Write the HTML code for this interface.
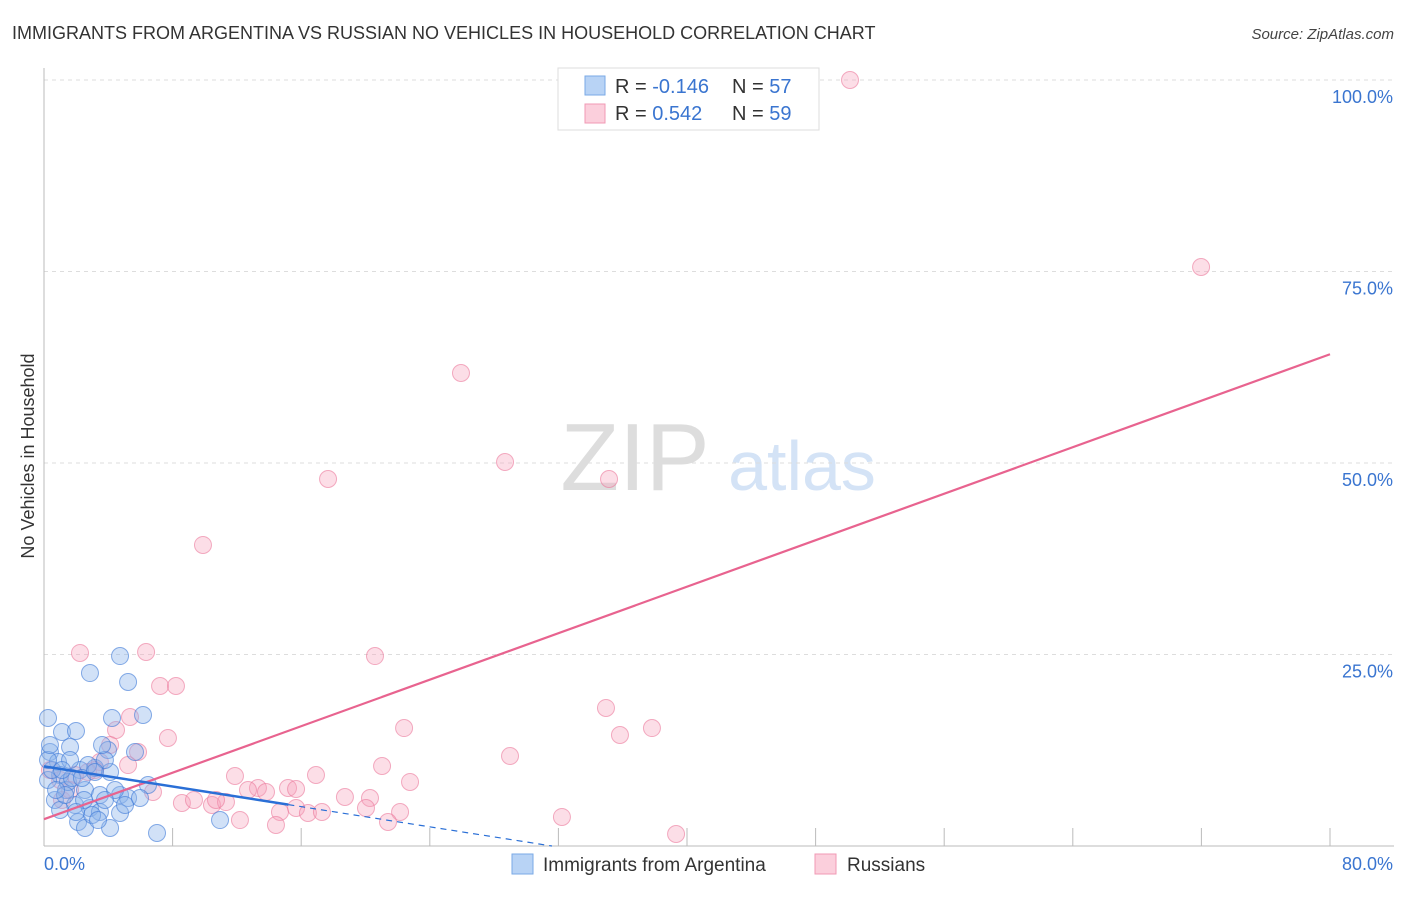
<!DOCTYPE html>
<html><head><meta charset="utf-8"><style>
body{margin:0;background:#fff;font-family:"Liberation Sans",sans-serif}
svg text{font-family:"Liberation Sans",sans-serif}
</style></head><body>
<svg id="chart" width="1406" height="892" viewBox="0 0 1406 892" xmlns="http://www.w3.org/2000/svg">
<text x="12" y="39" font-size="18" fill="#333">IMMIGRANTS FROM ARGENTINA VS RUSSIAN NO VEHICLES IN HOUSEHOLD CORRELATION CHART</text>
<text x="1394" y="39" font-size="15" fill="#444" text-anchor="end" font-style="italic">Source: ZipAtlas.com</text>
<g>
<text x="635" y="490" font-size="96" fill="#ddd" text-anchor="middle" font-family="Liberation Serif, serif">ZIP</text>
<text x="802" y="490" font-size="70" fill="#d4e3f6" text-anchor="middle">atlas</text>
</g>
<g id="grid"></g>
<g id="axes"></g>
<g id="pts"></g>
<g id="trend"></g>
<text transform="translate(34,456) rotate(-90)" font-size="18" fill="#333" text-anchor="middle">No Vehicles in Household</text>
<g>
<rect x="558" y="68" width="261" height="62" fill="#fff" stroke="#ddd"/>
<rect x="585" y="76" width="20" height="19" fill="#b8d3f5" stroke="#7aaae6"/>
<rect x="585" y="104" width="20" height="19" fill="#fbcfdc" stroke="#f09ab4"/>
<text x="615" y="93" font-size="20" fill="#333">R = <tspan fill="#3a75d0">-0.146</tspan></text>
<text x="732" y="93" font-size="20" fill="#333">N = <tspan fill="#3a75d0">57</tspan></text>
<text x="615" y="120" font-size="20" fill="#333">R = <tspan fill="#3a75d0"> 0.542</tspan></text>
<text x="732" y="120" font-size="20" fill="#333">N = <tspan fill="#3a75d0">59</tspan></text>
</g>
<g>
<rect x="512" y="854" width="21" height="20" fill="#b8d3f5" stroke="#7aaae6"/>
<text x="543" y="871" font-size="19" fill="#333">Immigrants from Argentina</text>
<rect x="815" y="854" width="21" height="20" fill="#fbcfdc" stroke="#f09ab4"/>
<text x="847" y="871" font-size="19" fill="#333">Russians</text>
</g>
</svg>
<script>
const blueXpx=[48,62,76,90,120,128,112,143,70,50,58,108,135,95,110,80,60,48,52,66,85,100,120,128,148,55,75,90,60,100,120,78,85,110,157,220,68,105,102,88,48,72,82,95,115,125,92,65,56,70,84,105,140,62,50,76,98];
const blueYpx=[718,732,731,673,656,682,718,715,747,752,762,750,752,768,772,770,775,780,770,790,790,795,795,798,785,800,805,808,810,812,813,822,828,828,833,820,782,760,745,765,760,778,778,772,790,805,815,795,790,760,800,800,798,770,745,812,820];
const pinkXpx=[850,1201,461,505,328,609,203,80,146,375,160,176,606,130,404,652,620,168,116,138,510,110,100,382,235,316,410,288,296,258,266,248,153,182,194,212,226,345,370,216,296,308,322,280,366,400,240,388,276,562,676,50,60,75,88,95,62,128,70];
const pinkYpx=[80,267,373,462,479,479,545,653,652,656,686,686,708,717,728,728,735,738,730,752,756,745,762,766,776,775,782,788,789,788,792,790,792,803,800,805,802,797,798,800,808,813,812,812,808,812,820,822,825,817,834,770,780,775,772,770,800,765,790];
// data values (percent) derived from reading the picture
const blueX=blueXpx.map(p=>+((p-44)/16.075).toFixed(2));
const blueY=blueYpx.map(p=>+((846-p)/7.66).toFixed(2));
const pinkX=pinkXpx.map(p=>+((p-44)/16.075).toFixed(2));
const pinkY=pinkYpx.map(p=>+((846-p)/7.66).toFixed(2));
const yTicks=[25,50,75,100];
const xTickVals=[0,8,16,24,32,40,48,56,64,72,80];
const pinkTrend=[[0,3.5],[80,64.2]];
const blueTrend=[[0,10.4],[15.2,5.4]];
const blueDash=[[15.2,5.4],[31.6,0]];
const X=v=>44+v*16.075, Y=v=>846-v*7.66;
const NS='http://www.w3.org/2000/svg';
function mk(parent,tag,attrs){const e=document.createElementNS(NS,tag);for(const k in attrs)e.setAttribute(k,attrs[k]);document.getElementById(parent).appendChild(e);return e;}
yTicks.forEach(t=>{
 const l=mk('grid','line',{x1:44,x2:1394,y1:Y(t),y2:Y(t),stroke:'#ddd','stroke-dasharray':'4,4'});
 
 
 const tx=mk('grid','text',{x:1393,y:Y(t)+23,'font-size':18,fill:'#3a75d0','text-anchor':'end'});
 tx.textContent=t.toFixed(1)+'%';
 
 
});
let a=mk('axes','line',{x1:44,x2:44,y1:68,y2:846,stroke:'#bbb'});


a=mk('axes','line',{x1:44,x2:1394,y1:846,y2:846,stroke:'#bbb'});


xTickVals.slice(1).forEach(t=>{
 const l=mk('axes','line',{x1:X(t),x2:X(t),y1:828,y2:846,stroke:'#bbb'});
 
 
});
[[0,'start'],[80,'end']].forEach(([t,anc])=>{
 const tx=mk('axes','text',{x:t===0?44:1393,y:870,'font-size':18,fill:'#3a75d0','text-anchor':anc});
 tx.textContent=t.toFixed(1)+'%';
 
 
});
pinkX.forEach((x,i)=>{
 const c=mk('pts','circle',{cx:X(x),cy:Y(pinkY[i]),r:8.5,fill:'rgba(246,160,186,0.35)',stroke:'rgba(235,120,155,0.6)'});
 
 
});
blueX.forEach((x,i)=>{
 const c=mk('pts','circle',{cx:X(x),cy:Y(blueY[i]),r:8.5,fill:'rgba(140,180,235,0.4)',stroke:'rgba(60,120,215,0.6)'});
 
 
});
let t=mk('trend','line',{x1:X(pinkTrend[0][0]),y1:Y(pinkTrend[0][1]),x2:X(pinkTrend[1][0]),y2:Y(pinkTrend[1][1]),stroke:'#e8638f','stroke-width':2.2});


t=mk('trend','line',{x1:X(blueTrend[0][0]),y1:Y(blueTrend[0][1]),x2:X(blueTrend[1][0]),y2:Y(blueTrend[1][1]),stroke:'#2a6fd6','stroke-width':2.5});


t=mk('trend','line',{x1:X(blueDash[0][0]),y1:Y(blueDash[0][1]),x2:X(blueDash[1][0]),y2:Y(blueDash[1][1]),stroke:'#2a6fd6','stroke-width':1.2,'stroke-dasharray':'6,5'});


</script>
</body></html>
